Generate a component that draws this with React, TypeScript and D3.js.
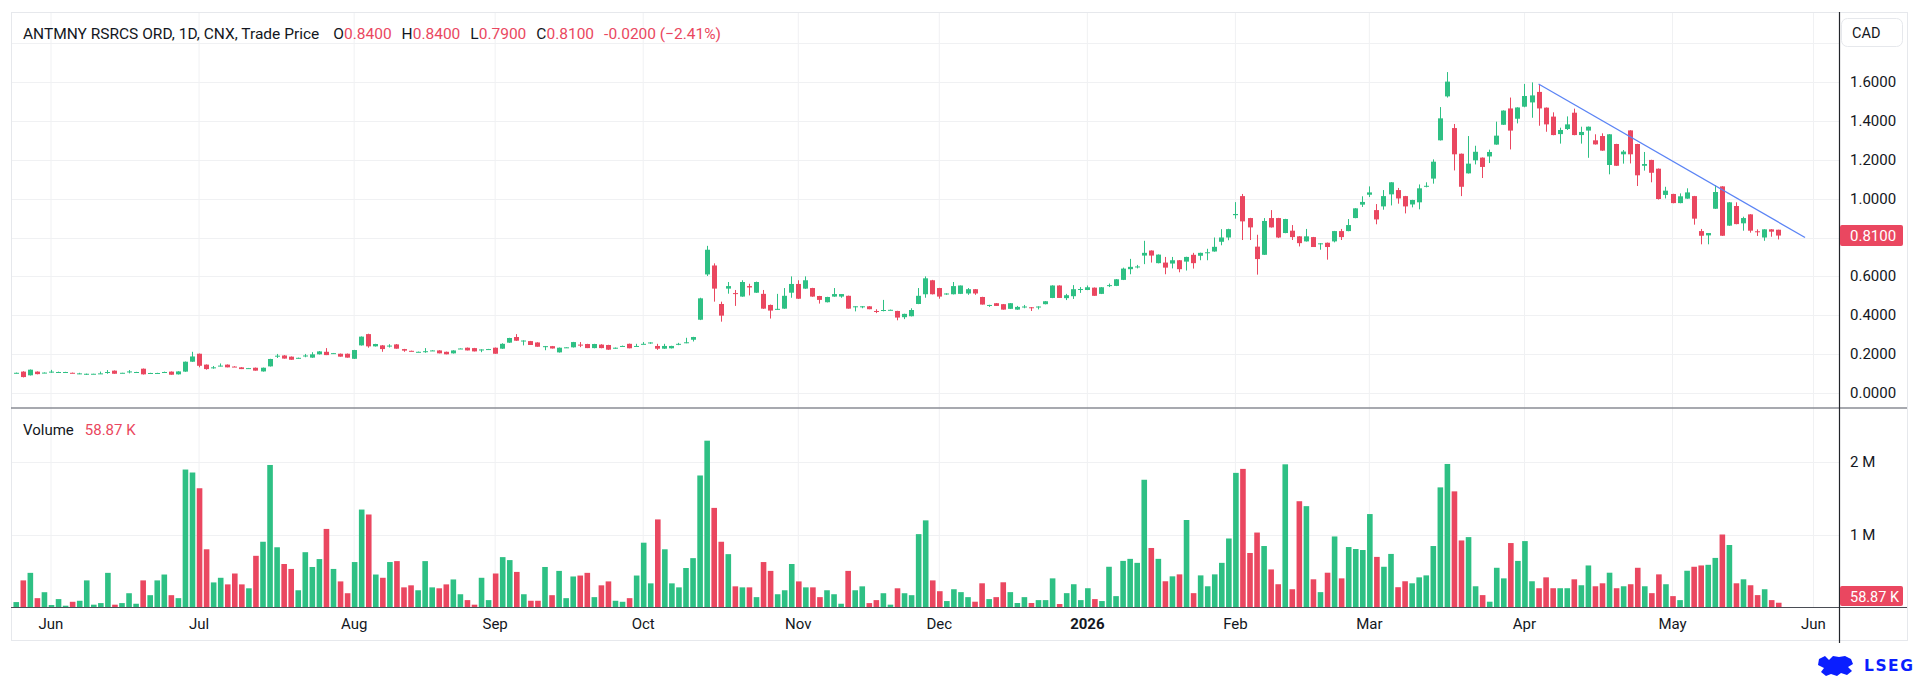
import React from "react";
import * as d3 from "d3";

// ---------- DATA ----------
// [open, high, low, close] per trading day, index 0 = 26 May 2025
const candles: [number, number, number, number][] = [
  [0.102, 0.105, 0.101, 0.104], [0.110, 0.112, 0.080, 0.082], [0.091, 0.121, 0.090, 0.120], [0.110, 0.111, 0.096, 0.097],
  [0.103, 0.106, 0.102, 0.105], [0.108, 0.119, 0.104, 0.110], [0.107, 0.110, 0.104, 0.108], [0.107, 0.109, 0.106, 0.108],
  [0.104, 0.105, 0.102, 0.103], [0.099, 0.104, 0.097, 0.101], [0.097, 0.100, 0.093, 0.099], [0.098, 0.099, 0.097, 0.099],
  [0.099, 0.110, 0.098, 0.101], [0.106, 0.118, 0.099, 0.108], [0.115, 0.116, 0.099, 0.099], [0.103, 0.104, 0.102, 0.104],
  [0.109, 0.118, 0.101, 0.111], [0.107, 0.109, 0.106, 0.108], [0.125, 0.126, 0.095, 0.096], [0.102, 0.104, 0.101, 0.103],
  [0.102, 0.104, 0.099, 0.103], [0.106, 0.110, 0.105, 0.108], [0.110, 0.111, 0.094, 0.094], [0.096, 0.112, 0.095, 0.111],
  [0.110, 0.162, 0.109, 0.161], [0.161, 0.212, 0.160, 0.188], [0.202, 0.203, 0.132, 0.140], [0.146, 0.147, 0.120, 0.123],
  [0.129, 0.139, 0.125, 0.132], [0.138, 0.152, 0.137, 0.141], [0.146, 0.147, 0.132, 0.132], [0.136, 0.138, 0.134, 0.135],
  [0.132, 0.133, 0.123, 0.123], [0.127, 0.129, 0.126, 0.128], [0.130, 0.131, 0.115, 0.115], [0.111, 0.131, 0.110, 0.130],
  [0.137, 0.176, 0.136, 0.175], [0.190, 0.201, 0.180, 0.192], [0.193, 0.195, 0.177, 0.177], [0.187, 0.188, 0.171, 0.171],
  [0.179, 0.182, 0.177, 0.181], [0.190, 0.201, 0.184, 0.193], [0.182, 0.210, 0.181, 0.199], [0.199, 0.216, 0.198, 0.214],
  [0.212, 0.231, 0.195, 0.195], [0.204, 0.206, 0.203, 0.205], [0.202, 0.203, 0.187, 0.187], [0.202, 0.203, 0.182, 0.182],
  [0.176, 0.222, 0.175, 0.221], [0.245, 0.291, 0.244, 0.290], [0.303, 0.305, 0.233, 0.240], [0.240, 0.253, 0.239, 0.252],
  [0.245, 0.247, 0.212, 0.226], [0.242, 0.251, 0.234, 0.244], [0.250, 0.252, 0.228, 0.228], [0.226, 0.227, 0.212, 0.218],
  [0.217, 0.218, 0.215, 0.216], [0.211, 0.213, 0.210, 0.212], [0.213, 0.231, 0.207, 0.215], [0.217, 0.220, 0.216, 0.219],
  [0.219, 0.220, 0.204, 0.204], [0.212, 0.213, 0.199, 0.199], [0.204, 0.220, 0.203, 0.219], [0.228, 0.230, 0.227, 0.229],
  [0.233, 0.234, 0.219, 0.219], [0.231, 0.232, 0.214, 0.214], [0.223, 0.225, 0.210, 0.224], [0.225, 0.227, 0.224, 0.226],
  [0.233, 0.234, 0.202, 0.202], [0.228, 0.256, 0.227, 0.253], [0.259, 0.284, 0.258, 0.283], [0.288, 0.303, 0.268, 0.269],
  [0.268, 0.271, 0.245, 0.270], [0.267, 0.268, 0.247, 0.247], [0.260, 0.261, 0.238, 0.238], [0.240, 0.242, 0.220, 0.241],
  [0.241, 0.242, 0.229, 0.229], [0.209, 0.234, 0.208, 0.233], [0.234, 0.236, 0.233, 0.235], [0.235, 0.263, 0.234, 0.262],
  [0.249, 0.262, 0.236, 0.247], [0.252, 0.253, 0.231, 0.231], [0.231, 0.253, 0.230, 0.252], [0.249, 0.251, 0.230, 0.231],
  [0.247, 0.248, 0.222, 0.223], [0.232, 0.234, 0.228, 0.233], [0.241, 0.244, 0.240, 0.242], [0.253, 0.254, 0.230, 0.230],
  [0.241, 0.253, 0.240, 0.242], [0.252, 0.262, 0.251, 0.253], [0.259, 0.261, 0.253, 0.260], [0.242, 0.253, 0.222, 0.228],
  [0.228, 0.253, 0.227, 0.242], [0.230, 0.243, 0.229, 0.242], [0.252, 0.258, 0.246, 0.253], [0.259, 0.284, 0.256, 0.261],
  [0.274, 0.289, 0.265, 0.288], [0.377, 0.490, 0.375, 0.487], [0.610, 0.757, 0.602, 0.737], [0.656, 0.667, 0.470, 0.537],
  [0.458, 0.470, 0.367, 0.398], [0.537, 0.571, 0.511, 0.550], [0.514, 0.530, 0.448, 0.510], [0.496, 0.580, 0.495, 0.571],
  [0.550, 0.562, 0.502, 0.543], [0.516, 0.573, 0.515, 0.571], [0.510, 0.530, 0.433, 0.434], [0.453, 0.455, 0.383, 0.424],
  [0.430, 0.510, 0.428, 0.433], [0.434, 0.540, 0.433, 0.500], [0.516, 0.600, 0.490, 0.561], [0.561, 0.580, 0.484, 0.485],
  [0.537, 0.600, 0.536, 0.580], [0.540, 0.541, 0.495, 0.496], [0.499, 0.500, 0.460, 0.479], [0.467, 0.495, 0.466, 0.494],
  [0.496, 0.540, 0.495, 0.509], [0.496, 0.509, 0.490, 0.509], [0.500, 0.501, 0.434, 0.434], [0.444, 0.446, 0.420, 0.446],
  [0.444, 0.447, 0.436, 0.446], [0.446, 0.447, 0.431, 0.431], [0.422, 0.431, 0.411, 0.420], [0.423, 0.479, 0.420, 0.427],
  [0.427, 0.429, 0.426, 0.428], [0.422, 0.423, 0.374, 0.388], [0.390, 0.408, 0.380, 0.407], [0.395, 0.436, 0.394, 0.427],
  [0.458, 0.540, 0.457, 0.500], [0.508, 0.600, 0.490, 0.590], [0.580, 0.582, 0.507, 0.508], [0.540, 0.541, 0.485, 0.496],
  [0.509, 0.513, 0.505, 0.512], [0.508, 0.571, 0.507, 0.550], [0.510, 0.553, 0.509, 0.553], [0.512, 0.540, 0.505, 0.534],
  [0.534, 0.535, 0.505, 0.512], [0.494, 0.495, 0.455, 0.455], [0.452, 0.454, 0.443, 0.453], [0.462, 0.463, 0.448, 0.448],
  [0.457, 0.458, 0.429, 0.429], [0.433, 0.463, 0.432, 0.462], [0.429, 0.448, 0.428, 0.443], [0.444, 0.453, 0.436, 0.445],
  [0.441, 0.442, 0.422, 0.440], [0.444, 0.446, 0.430, 0.445], [0.457, 0.473, 0.456, 0.472], [0.489, 0.554, 0.488, 0.553],
  [0.553, 0.554, 0.489, 0.489], [0.488, 0.510, 0.478, 0.503], [0.498, 0.555, 0.484, 0.534], [0.530, 0.545, 0.515, 0.535],
  [0.530, 0.553, 0.529, 0.544], [0.542, 0.543, 0.500, 0.500], [0.510, 0.545, 0.509, 0.544], [0.553, 0.563, 0.545, 0.555],
  [0.551, 0.586, 0.550, 0.585], [0.582, 0.645, 0.581, 0.640], [0.637, 0.690, 0.611, 0.649], [0.649, 0.659, 0.641, 0.651],
  [0.707, 0.783, 0.663, 0.721], [0.733, 0.734, 0.671, 0.707], [0.668, 0.713, 0.667, 0.712], [0.671, 0.700, 0.611, 0.645],
  [0.666, 0.700, 0.641, 0.683], [0.683, 0.684, 0.621, 0.637], [0.676, 0.701, 0.630, 0.700], [0.711, 0.721, 0.640, 0.668],
  [0.706, 0.722, 0.683, 0.721], [0.721, 0.742, 0.683, 0.724], [0.728, 0.800, 0.727, 0.752], [0.778, 0.843, 0.760, 0.800],
  [0.800, 0.845, 0.786, 0.843], [0.915, 0.982, 0.897, 0.921], [1.013, 1.024, 0.787, 0.883], [0.900, 0.901, 0.787, 0.852],
  [0.753, 0.814, 0.609, 0.689], [0.711, 0.900, 0.710, 0.885], [0.900, 0.941, 0.851, 0.852], [0.900, 0.901, 0.797, 0.800],
  [0.823, 0.896, 0.822, 0.895], [0.835, 0.864, 0.787, 0.802], [0.806, 0.807, 0.754, 0.771], [0.780, 0.844, 0.779, 0.806],
  [0.802, 0.803, 0.751, 0.751], [0.768, 0.771, 0.737, 0.770], [0.773, 0.774, 0.686, 0.751], [0.780, 0.834, 0.775, 0.833],
  [0.833, 0.844, 0.787, 0.802], [0.833, 0.895, 0.832, 0.864], [0.900, 0.951, 0.899, 0.950], [0.969, 1.012, 0.957, 0.983],
  [1.020, 1.063, 1.008, 1.032], [0.941, 0.972, 0.868, 0.893], [0.960, 1.044, 0.943, 1.013], [1.022, 1.085, 0.965, 1.084],
  [1.044, 1.055, 0.974, 1.001], [1.013, 1.014, 0.924, 0.960], [0.970, 0.994, 0.955, 0.993], [0.981, 1.073, 0.945, 1.053],
  [1.062, 1.084, 1.058, 1.066], [1.103, 1.202, 1.077, 1.190], [1.300, 1.471, 1.299, 1.413], [1.526, 1.651, 1.520, 1.602],
  [1.363, 1.384, 1.145, 1.228], [1.231, 1.232, 1.013, 1.061], [1.130, 1.322, 1.129, 1.180], [1.197, 1.272, 1.176, 1.241],
  [1.211, 1.212, 1.106, 1.163], [1.217, 1.252, 1.183, 1.240], [1.278, 1.396, 1.277, 1.324], [1.380, 1.454, 1.379, 1.453],
  [1.464, 1.520, 1.253, 1.350], [1.411, 1.470, 1.387, 1.469], [1.473, 1.590, 1.470, 1.528], [1.495, 1.598, 1.416, 1.531],
  [1.549, 1.585, 1.375, 1.464], [1.468, 1.469, 1.344, 1.382], [1.422, 1.444, 1.326, 1.327], [1.332, 1.365, 1.283, 1.353],
  [1.358, 1.423, 1.353, 1.382], [1.442, 1.463, 1.326, 1.327], [1.327, 1.370, 1.283, 1.343], [1.350, 1.371, 1.210, 1.370],
  [1.300, 1.331, 1.278, 1.279], [1.322, 1.336, 1.246, 1.247], [1.173, 1.332, 1.125, 1.331], [1.281, 1.282, 1.168, 1.169],
  [1.228, 1.250, 1.180, 1.242], [1.351, 1.352, 1.181, 1.228], [1.281, 1.282, 1.065, 1.120], [1.169, 1.240, 1.144, 1.178],
  [1.199, 1.200, 1.084, 1.133], [1.154, 1.155, 0.995, 0.998], [1.019, 1.061, 1.001, 1.041], [1.024, 1.025, 0.976, 0.977],
  [0.977, 1.027, 0.976, 1.012], [1.000, 1.053, 0.999, 1.032], [1.013, 1.014, 0.866, 0.897], [0.833, 0.844, 0.765, 0.809],
  [0.811, 0.823, 0.765, 0.823], [0.948, 1.070, 0.947, 1.034], [1.063, 1.064, 0.808, 0.809], [0.861, 0.982, 0.860, 0.981],
  [0.962, 0.981, 0.868, 0.869], [0.873, 0.907, 0.835, 0.900], [0.919, 0.920, 0.825, 0.835], [0.832, 0.842, 0.808, 0.829],
  [0.800, 0.843, 0.783, 0.842], [0.842, 0.843, 0.804, 0.830], [0.840, 0.840, 0.790, 0.810],
];

// daily volume in thousands of shares
const volumesK: number[] = [
  68, 367, 471, 122, 204, 27, 109, 18, 72, 86, 367, 32, 54, 471, 32, 54, 190, 45, 367, 163,
  367, 448, 163, 122, 1896, 1855, 1638, 796, 339, 403, 312, 462, 312, 258, 706, 900, 1959, 824, 593, 525,
  231, 756, 552, 661, 1077, 525, 353, 190, 620, 1344, 1276, 448, 403, 620, 633, 271, 299, 231, 633, 271,
  258, 312, 380, 176, 95, 32, 403, 95, 462, 688, 647, 484, 176, 86, 86, 552, 163, 498, 122, 421,
  434, 471, 136, 299, 353, 86, 72, 122, 434, 887, 326, 1208, 796, 326, 271, 538, 674, 1814, 2294, 1367,
  900, 729, 285, 271, 271, 136, 620, 498, 176, 231, 593, 353, 271, 271, 136, 231, 176, 45, 498, 231,
  285, 54, 95, 190, 32, 258, 190, 163, 1005, 1195, 367, 218, 82, 245, 205, 136, 73, 327, 109, 136,
  341, 205, 55, 136, 55, 95, 95, 395, 41, 191, 314, 95, 259, 109, 82, 555, 150, 636, 664, 609,
  1755, 814, 664, 355, 423, 450, 1200, 191, 436, 286, 450, 609, 945, 1850, 1905, 745, 1027, 841, 518, 314,
  1968, 245, 1459, 1391, 382, 205, 473, 973, 395, 827, 800, 786, 1282, 691, 555, 732, 273, 355, 327, 409,
  436, 841, 1650, 1973, 1595, 918, 964, 286, 164, 73, 541, 395, 882, 636, 909, 355, 259, 409, 259, 259,
  259, 382, 300, 573, 286, 327, 473, 259, 286, 314, 541, 286, 191, 450, 314, 150, 95, 500, 555, 573,
  582, 677, 1000, 855, 327, 382, 300, 164, 245, 95, 58.87,
];

const monthTicks = [
  { i: 5, label: "Jun", bold: false }, { i: 26, label: "Jul", bold: false }, { i: 48, label: "Aug", bold: false },
  { i: 68, label: "Sep", bold: false }, { i: 89, label: "Oct", bold: false }, { i: 111, label: "Nov", bold: false },
  { i: 131, label: "Dec", bold: false }, { i: 152, label: "2026", bold: true }, { i: 173, label: "Feb", bold: false },
  { i: 192, label: "Mar", bold: false }, { i: 214, label: "Apr", bold: false }, { i: 235, label: "May", bold: false },
  { i: 255, label: "Jun", bold: false },
];
const priceTicks = [0, 0.2, 0.4, 0.6, 0.8, 1.0, 1.2, 1.4, 1.6];
const extraPriceGrid = [1.8];
const volumeTicks = [{ v: 1000, label: "1 M" }, { v: 2000, label: "2 M" }];
const trendLine = [{ i: 216, p: 1.59 }, { i: 253.8, p: 0.8 }];

const headerTitle = "ANTMNY RSRCS ORD, 1D, CNX, Trade Price";
const headerValues = [
  { k: "O", v: "0.8400" }, { k: "H", v: "0.8400" }, { k: "L", v: "0.7900" }, { k: "C", v: "0.8100" },
];
const headerChange = "-0.0200 (\u22122.41%)";
const lastPriceLabel = "0.8100";
const lastVolumeLabel = "58.87 K";

// ---------- STYLE ----------
const UP = "#2EC084";
const DOWN = "#EA4760";
const TEXT = "#131722";
const GRID = "#F0F1F3";
const FONT = "Roboto, 'Noto Sans', sans-serif";

export default function App() {
  const left = 11, top = 12, right = 1907, bottom = 640;
  const axisX = 1839;
  const sepY = 408;
  const volBase = 607;

  const x = d3.scaleLinear().domain([0, 255]).range([15.75, 15.75 + 255 * 7.05]);
  const yP = d3.scaleLinear().domain([0, 1.6]).range([393, 82]);
  const yV = d3.scaleLinear().domain([0, 2000]).range([volBase, 462]);

  const bodyW = 5;
  const volW = 5.6;
  const line = d3.line<{ i: number; p: number }>().x((d) => x(d.i)).y((d) => yP(d.p));

  return (
    <svg
      width={1920}
      height={681}
      style={{ position: "absolute", left: 0, top: 0, background: "#fff" }}
      fontFamily={FONT}
    >
      <rect x={0} y={0} width={1920} height={681} fill="#fff" />
      <defs>
        <clipPath id="plotP"><rect x={left} y={top} width={axisX - left} height={sepY - top} /></clipPath>
        <clipPath id="plotV"><rect x={left} y={sepY} width={axisX - left} height={volBase - sepY} /></clipPath>
      </defs>

      {/* vertical grid */}
      {monthTicks.map((m) => (
        <line key={"vg" + m.i + m.label} x1={x(m.i)} x2={x(m.i)} y1={top} y2={volBase} stroke={GRID} strokeWidth={1} />
      ))}
      {/* horizontal price grid */}
      {[...priceTicks, ...extraPriceGrid].map((p) => (
        <line key={"pg" + p} x1={left} x2={axisX} y1={Math.round(yP(p)) + 0.5} y2={Math.round(yP(p)) + 0.5} stroke={GRID} />
      ))}
      {volumeTicks.map((t) => (
        <line key={"vgr" + t.v} x1={left} x2={axisX} y1={Math.round(yV(t.v)) + 0.5} y2={Math.round(yV(t.v)) + 0.5} stroke={GRID} />
      ))}

      {/* frame */}
      <rect x={left + 0.5} y={top + 0.5} width={right - left} height={bottom - top} fill="none" stroke="#E6E8EC" />

      {/* candles */}
      <g clipPath="url(#plotP)">
        {candles.map((c, i) => {
          const [o, h, l, cl] = c;
          const up = cl >= o;
          const col = up ? UP : DOWN;
          const cx = Math.round(x(i)) + 0.5;
          const yTop = yP(Math.max(o, cl));
          const yBot = yP(Math.min(o, cl));
          const bh = Math.max(1, yBot - yTop);
          return (
            <g key={"c" + i}>
              <line x1={cx} x2={cx} y1={yP(h)} y2={yP(l)} stroke={col} strokeWidth={1} />
              <rect x={cx - bodyW / 2} y={yTop} width={bodyW} height={bh} fill={col} />
            </g>
          );
        })}
        <path d={line(trendLine) || ""} fill="none" stroke="#5B84F5" strokeWidth={1.3} />
      </g>

      {/* volume */}
      <g clipPath="url(#plotV)">
        {volumesK.map((v, i) => {
          const c = candles[i];
          const up = c ? c[3] >= c[0] : true;
          return (
            <rect key={"v" + i} x={x(i) - volW / 2 + 0.5} y={yV(v)} width={volW} height={volBase - yV(v)} fill={up ? UP : DOWN} />
          );
        })}
      </g>

      {/* separators & axis lines */}
      <line x1={left} x2={right} y1={sepY} y2={sepY} stroke="#8A8D94" strokeWidth={1.6} />
      <line x1={left} x2={right} y1={volBase + 0.5} y2={volBase + 0.5} stroke="#4A4D55" strokeWidth={1} />
      <line x1={axisX + 0.5} x2={axisX + 0.5} y1={top} y2={bottom + 3} stroke="#22252B" strokeWidth={1.2} />

      {/* header */}
      <text x={23} y={38.5} fontSize={15.5} fill={TEXT}>
        <tspan>{headerTitle}</tspan>
        {headerValues.map((hv) => (
          <React.Fragment key={hv.k}>
            <tspan dx={hv.k === "O" ? 14 : 10} fill={TEXT}>{hv.k}</tspan>
            <tspan fill={DOWN}>{hv.v}</tspan>
          </React.Fragment>
        ))}
        <tspan dx={10} fill={DOWN}>{headerChange}</tspan>
      </text>

      {/* volume legend */}
      <text x={23} y={434.5} fontSize={15} fill={TEXT}>
        <tspan>Volume</tspan>
        <tspan dx={11} fill={DOWN}>{lastVolumeLabel}</tspan>
      </text>

      {/* CAD box */}
      <rect x={1841.5} y={18.5} width={61} height={28} rx={6} fill="#fff" stroke="#E6E8EC" />
      <text x={1852} y={38} fontSize={14.5} fill={TEXT}>CAD</text>

      {/* price axis labels */}
      {priceTicks.map((p) => (
        <text key={"pl" + p} x={1850} y={yP(p) + 5} fontSize={15} fill={TEXT}>{p.toFixed(4)}</text>
      ))}
      {volumeTicks.map((t) => (
        <text key={"vl" + t.v} x={1850} y={yV(t.v) + 5} fontSize={15} fill={TEXT}>{t.label}</text>
      ))}

      {/* last price label */}
      <rect x={1840} y={yP(0.81) - 10.5} width={63} height={21} rx={2} fill={DOWN} />
      <text x={1850} y={yP(0.81) + 5} fontSize={15} fill="#fff">{lastPriceLabel}</text>
      <rect x={1840} y={586} width={63} height={20} rx={2} fill={DOWN} />
      <text x={1850} y={601.5} fontSize={14.5} fill="#fff">{lastVolumeLabel}</text>

      {/* time axis labels */}
      {monthTicks.map((m) => (
        <text key={"ml" + m.i + m.label} x={x(m.i)} y={629} fontSize={15} textAnchor="middle" fill={TEXT} fontWeight={m.bold ? 700 : 400}>
          {m.label}
        </text>
      ))}

      {/* LSEG logo */}
      <g transform="translate(1817,656)" fill="#0A1EFF">
        <path d="M2,3 L8,0 L12,4 L16,0 L22,1 L28,0 L34,3 L36,8 L31,11 L35,15 L30,19 L24,17 L20,20 L14,18 L9,20 L4,16 L7,12 L1,9 Z" />
      </g>
      <text x={1864} y={671} fontSize={15.5} fontWeight={700} fill="#0A1EFF" letterSpacing={1.5} fontFamily="'DejaVu Sans', sans-serif">LSEG</text>
    </svg>
  );
}
